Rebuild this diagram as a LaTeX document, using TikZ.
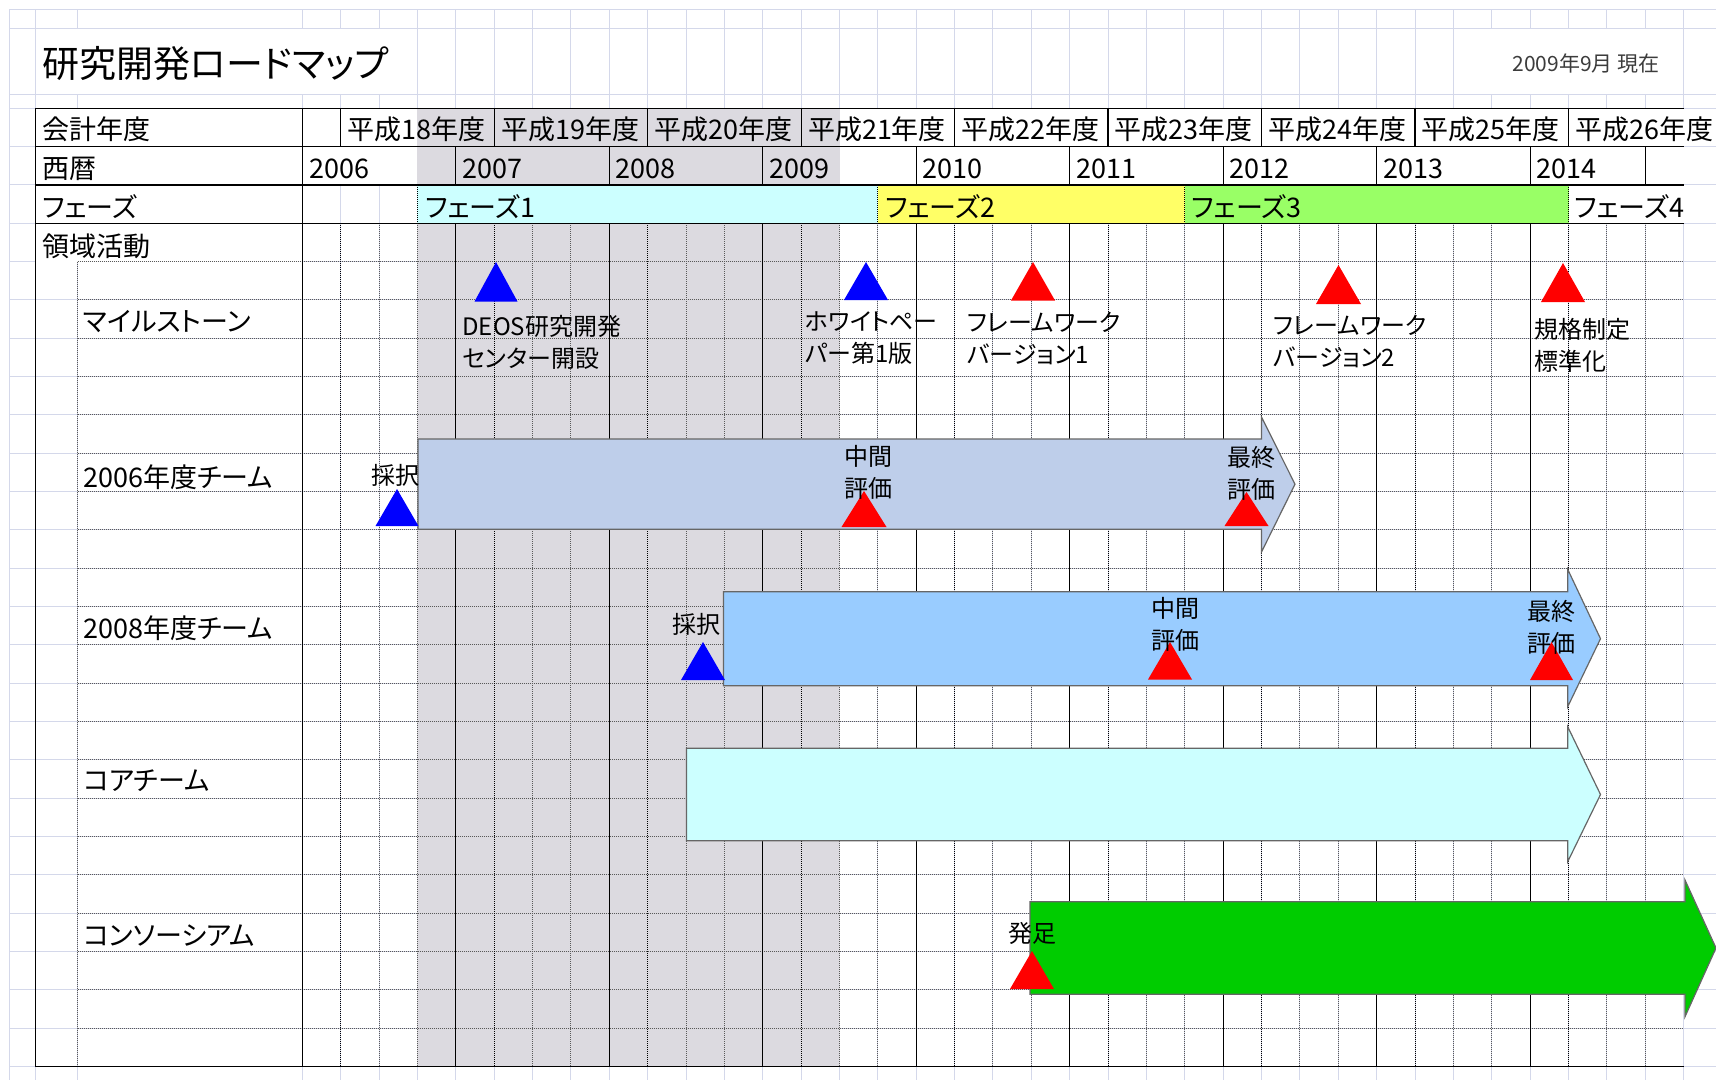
\documentclass[tikz,border=0pt]{standalone}
\usepackage{fontspec}
\setmainfont{Noto Sans CJK JP}[RawFeature=+palt]
\definecolor{bggrid}{RGB}{212,216,234}
\definecolor{bandgray}{RGB}{220,218,224}
\definecolor{ph1}{RGB}{204,255,255}
\definecolor{ph2}{RGB}{255,255,102}
\definecolor{ph3}{RGB}{153,255,102}
\definecolor{ar06}{RGB}{190,206,234}
\definecolor{ar08}{RGB}{153,204,255}
\definecolor{arcore}{RGB}{204,255,255}
\definecolor{arcons}{RGB}{0,204,0}
\definecolor{msblue}{RGB}{0,0,255}
\definecolor{msred}{RGB}{255,0,0}
\definecolor{datecol}{RGB}{60,60,60}
\tikzset{
  bgline/.style={draw=bggrid, line width=0.5bp},
  solidb/.style={draw=black, line width=0.6bp},
  dotdark/.style={draw=black, line width=0.5bp, dash pattern=on 0.5bp off 0.5bp},
  dotlight/.style={draw=black!65, line width=0.5bp, dash pattern=on 0.5bp off 0.5bp},
  ttl/.style={anchor=west, inner sep=0pt, font=\fontsize{18.5bp}{22bp}\selectfont},
  datetxt/.style={anchor=east, inner sep=0pt, text=datecol, font=\fontsize{10.5bp}{12bp}\selectfont},
  hdr/.style={anchor=west, inner sep=0pt, font=\fontsize{13.5bp}{16bp}\selectfont},
  lbl/.style={anchor=west, inner sep=0pt, font=\fontsize{13.5bp}{16bp}\selectfont},
  ann/.style={anchor=west, inner sep=0pt, align=left, font=\fontsize{12bp}{16bp}\selectfont},
  bar/.style={draw=black!60, line width=0.6bp},
}
\newcommand\mstri[5]{\fill[#1] (#2,#3) -- ({#2-#5},#4) -- ({#2+#5},#4) -- cycle;}
\begin{document}
\begin{tikzpicture}[x=0.5bp,y=-0.5bp]
\useasboundingbox (0,0) rectangle (1716,1080);
% background sheet grid
\foreach \k in {0,...,36} \draw[bgline] ({302.3+38.37*\k},9.3) -- ({302.3+38.37*\k},1080);
\foreach \x in {9.6,35.2,77.7} \draw[bgline] (\x,9.3) -- (\x,1080);
\foreach \y in {9.3,28.3,94.3} \draw[bgline] (9.6,\y) -- (1716,\y);
\foreach \j in {0,...,25} \draw[bgline] (9.6,{108.3+38.33*\j}) -- (1716,{108.3+38.33*\j});
% white cells
\fill[white] (35.8,28.8) rectangle (417,93.8);
\fill[white] (1454,28.8) rectangle (1683,93.8);
\fill[white] (35.2,108.3) rectangle (1683.6,185);
\fill[white] (35.2,185) rectangle (302.3,261.6);
\fill[white] (1568.5,185) rectangle (1683.6,223.3);
% gray band
\fill[bandgray] (417.4,108.3) rectangle (839.5,185);
\fill[bandgray] (417.4,223.3) rectangle (839.5,1066.7);
% phases
\fill[ph1] (417.4,185) rectangle (877.9,223.3);
\fill[ph2] (877.9,185) rectangle (1184.8,223.3);
\fill[ph3] (1184.8,185) rectangle (1568.5,223.3);
% body lines
\foreach \j in {4,...,24} \draw[dotlight] (77.7,{108.3+38.33*\j}) -- (1683.6,{108.3+38.33*\j});
\draw[dotlight] (77.7,261.6) -- (77.7,1066.7);
\foreach \k in {2,3,6,7,10,11,14,15,18,19,22,23,26,27,30,31,34,35}
  \draw[dotlight] ({302.3+38.37*\k},223.3) -- ({302.3+38.37*\k},1066.7);
\foreach \k in {1,5,...,33}
  \draw[dotdark] ({302.3+38.37*\k},223.3) -- ({302.3+38.37*\k},1066.7);
\foreach \k in {4,8,...,32}
  \draw[solidb] ({302.3+38.37*\k},223.3) -- ({302.3+38.37*\k},1066.7);
% phase boundaries
\foreach \k in {3,15,23,33} \draw[dotdark] ({302.3+38.37*\k},185) -- ({302.3+38.37*\k},223.3);
% header verticals
\foreach \k in {1,5,...,33} \draw[solidb] ({302.3+38.37*\k},108.3) -- ({302.3+38.37*\k},146.6);
\foreach \k in {4,8,...,32,35} \draw[solidb] ({302.3+38.37*\k},146.6) -- ({302.3+38.37*\k},185);
% outer solid lines
\foreach \j in {0,1,2,3,25} \draw[solidb] (35.2,{108.3+38.33*\j}) -- (1683.6,{108.3+38.33*\j});
\draw[solidb] (35.2,108.3) -- (35.2,1066.7);
\draw[solidb] (302.3,108.3) -- (302.3,1066.7);
% bars
\draw[bar, fill=ar06] (417.9,439) -- (1261.5,439) -- (1261.5,417) -- (1295,484.2) -- (1261.5,552) -- (1261.5,529.3) -- (417.9,529.3) -- cycle;
\draw[bar, fill=ar08] (723.5,591.7) -- (1567.7,591.7) -- (1567.7,569.3) -- (1600.5,638.7) -- (1567.7,706.7) -- (1567.7,685.7) -- (723.5,685.7) -- cycle;
\draw[bar, fill=arcore] (686.5,748.3) -- (1567.7,748.3) -- (1567.7,726.7) -- (1600.5,794.5) -- (1567.7,861.7) -- (1567.7,840.7) -- (686.5,840.7) -- cycle;
\draw[bar, fill=arcons] (1030,901.7) -- (1685,901.7) -- (1685,880) -- (1716,948) -- (1685,1016.7) -- (1685,994.3) -- (1030,994.3) -- cycle;
% milestone triangles
\mstri{msblue}{496}{262}{301.5}{21.5}
\mstri{msblue}{866}{262}{300}{22}
\mstri{msred}{1033}{262}{300.5}{22}
\mstri{msred}{1338.5}{265}{304}{22.5}
\mstri{msred}{1563}{263}{302}{22}
\mstri{msblue}{397}{489}{526}{21.5}
\mstri{msred}{864}{491}{527}{22.5}
\mstri{msred}{1246.5}{492}{526}{22}
\mstri{msblue}{703}{642}{680}{22}
\mstri{msred}{1170}{642}{679.5}{22}
\mstri{msred}{1551.5}{642}{680}{21.5}
\mstri{msred}{1032}{951}{989}{22}
% texts
\node[ttl] (title) at (42,64) {研究開発ロードマップ};
\node[datetxt] (date) at (1660,63.5) {2009年9月 現在};
\node[hdr] (kaikei) at (42,129.5) {会計年度};
\node[hdr] (seireki) at (42,169) {西暦};
\node[hdr] (phase) at (42,207) {フェーズ};
\node[hdr] (ryoiki) at (42,246) {領域活動};
\foreach \i in {0,...,8} {
  \pgfmathtruncatemacro\yr{18+\i}
  \node[hdr] (fy\i) at ({302.3+38.37*(1+4*\i)+6.5},129.5) {平成\yr 年度};
}
\node[hdr] (cy0) at (308.8,169) {2006};
\foreach \i in {1,...,8} {
  \pgfmathtruncatemacro\cy{2006+\i}
  \node[hdr] (cy\i) at ({302.3+38.37*(4*\i)+6},169) {\cy};
}
\node[hdr] (ph1t) at (424.8,207) {フェーズ1};
\node[hdr] (ph2t) at (885,207) {フェーズ2};
\node[hdr] (ph3t) at (1191.5,207) {フェーズ3};
\node[hdr] (ph4t) at (1574,207) {フェーズ4};
\node[lbl] (r1) at (83,322) {マイルストーン};
\node[lbl] (r2) at (83,477) {2006年度チーム};
\node[lbl] (r3) at (83,628) {2008年度チーム};
\node[lbl] (r4) at (83,781) {コアチーム};
\node[lbl] (r5) at (83,935.5) {コンソーシアム};
\node[ann] (m1) at (462,342) {DEOS研究開発\\センター開設};
\node[ann] (m2) at (805,338) {ホワイトペー\\パー第1版};
\node[ann] (m3) at (967,338) {フレームワーク\\バージョン1};
\node[ann] (m4) at (1273,341.5) {フレームワーク\\バージョン2};
\node[ann] (m5) at (1534,345) {規格制定\\標準化};
\node[ann] (a1) at (371,475) {採択};
\node[ann] (a2) at (844,472) {中間\\評価};
\node[ann] (a3) at (1227,473.5) {最終\\評価};
\node[ann] (b1) at (672,624) {採択};
\node[ann] (b2) at (1151,624) {中間\\評価};
\node[ann] (b3) at (1527,627) {最終\\評価};
\node[ann] (c1) at (1008,933.5) {発足};
\end{tikzpicture}
\end{document}
